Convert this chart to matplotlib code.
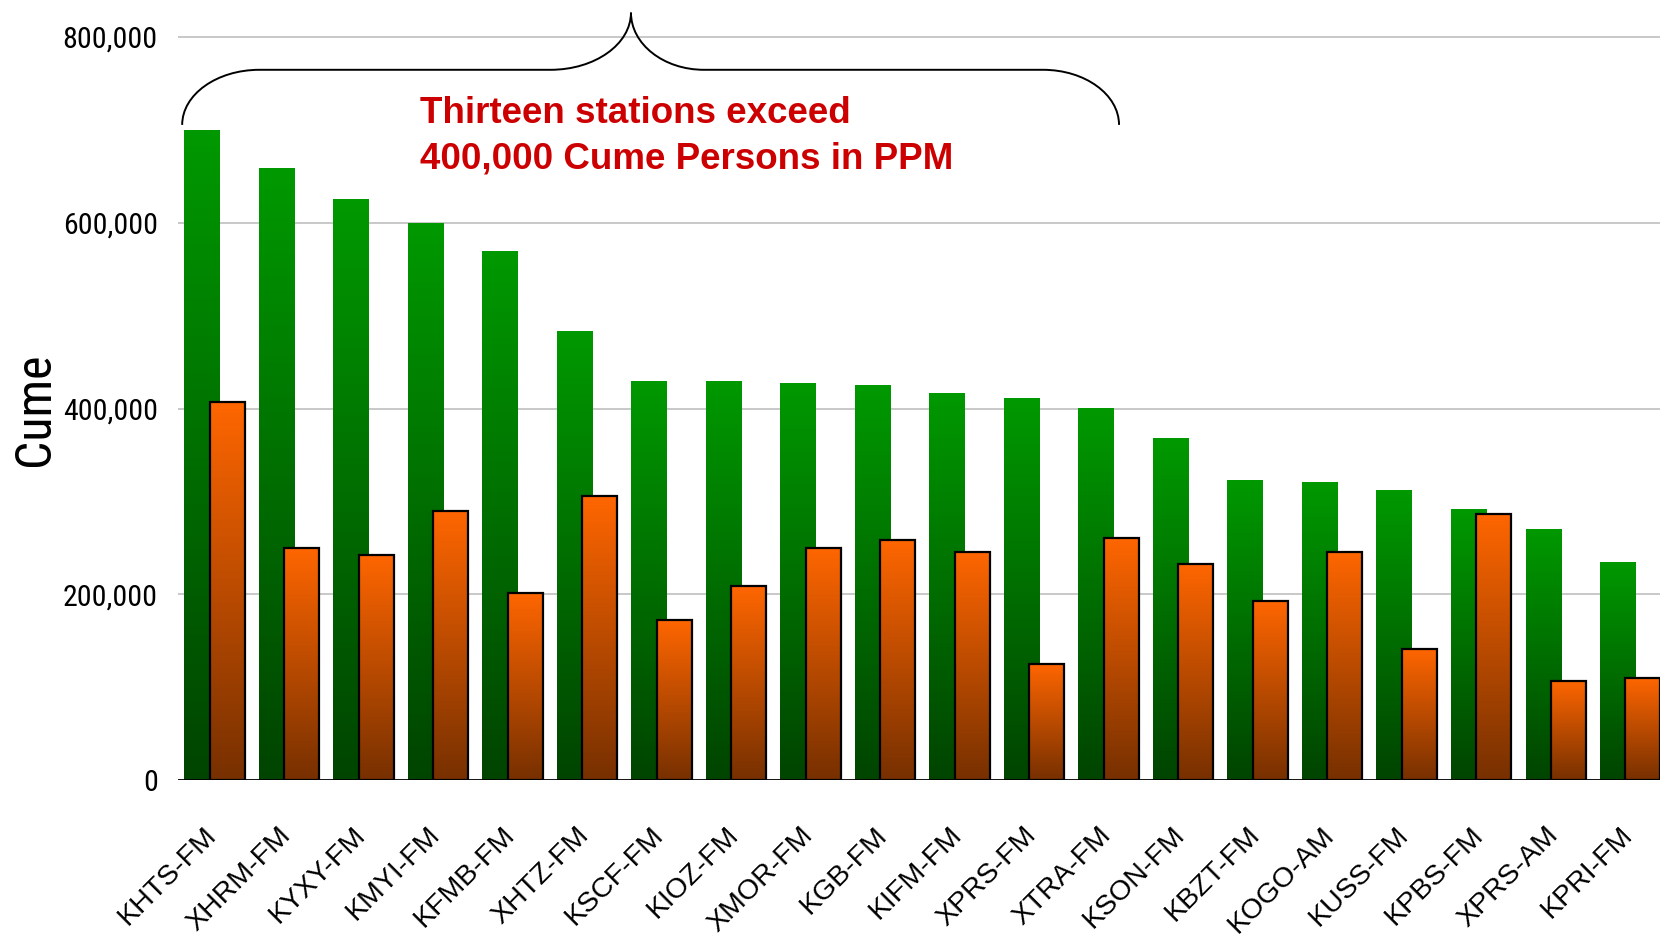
import matplotlib
matplotlib.use("Agg")
import os
import matplotlib.pyplot as plt
import numpy as np
from matplotlib.path import Path
from matplotlib.patches import PathPatch
from matplotlib.colors import LinearSegmentedColormap
from matplotlib.transforms import ScaledTranslation
from matplotlib import font_manager
from matplotlib.font_manager import FontProperties

# ---------------- data ----------------
stations = ["KHTS-FM", "XHRM-FM", "KYXY-FM", "KMYI-FM", "KFMB-FM", "XHTZ-FM",
            "KSCF-FM", "KIOZ-FM", "XMOR-FM", "KGB-FM", "KIFM-FM", "XPRS-FM",
            "XTRA-FM", "KSON-FM", "KBZT-FM", "KOGO-AM", "KUSS-FM", "KPBS-FM",
            "XPRS-AM", "KPRI-FM"]
cume_green = [700000, 659000, 626000, 600000, 570000, 484000,
              430000, 430000, 427500, 425000, 417000, 411500,
              401000, 368000, 323500, 321500, 312000, 291500,
              271000, 235000]
cume_orange = [407000, 250500, 242500, 289500, 201500, 305500,
               172000, 209500, 250500, 258500, 246000, 125500,
               261000, 232500, 193500, 246000, 141000, 287000,
               107000, 110500]
y_ticks = [0, 200000, 400000, 600000, 800000]
annotation_lines = ["Thirteen stations exceed", "400,000 Cume Persons in PPM"]
y_title = "Cume"

# ---------------- fonts ----------------
names = {f.name for f in font_manager.fontManager.ttflist}
regular = "Liberation Sans" if "Liberation Sans" in names else "DejaVu Sans"

def find_narrow():
    prefs = ["liberationsansnarrow-regular", "arialn", "robotocondensed-regular",
             "opensans_condensed-regular", "opensans-condensedregular",
             "opensanscondensed-regular", "notosans-condensed.", "notosans-condensed-regular",
             "dejavusanscondensed."]
    files = [f.fname for f in font_manager.fontManager.ttflist]
    for p in prefs:
        for fn in files:
            if os.path.basename(fn).lower().startswith(p):
                return fn
    for fn in files:
        b = os.path.basename(fn).lower()
        if ("narrow" in b or "condensed" in b) and not any(
                s in b for s in ("bold", "italic", "oblique", "light", "thin", "black", "medium", "semi", "extra")):
            return fn
    return None

narrow_file = find_narrow()

def narrow_fp(size):
    if narrow_file:
        return FontProperties(fname=narrow_file, size=size)
    return FontProperties(family=regular, size=size * 0.85)

W, H = 1660, 936
fig = plt.figure(figsize=(W / 100, H / 100), dpi=100)
fig.patch.set_facecolor("white")

ax_left, ax_bottom = 178 / W, (H - 780.3) / H
top_val = 805000
px_per_val = (780.3 - 37.0) / 800000
ax_h = top_val * px_per_val / H
ax = fig.add_axes([ax_left, ax_bottom, 1 - ax_left, ax_h])
ax.set_facecolor("white")

n = len(stations)
x = np.arange(n)
bw = 0.47
off = 0.17

green_cmap = LinearSegmentedColormap.from_list("g", ["#004400", "#009900"])
orange_cmap = LinearSegmentedColormap.from_list("o", ["#773000", "#FF6600"])
grad = np.linspace(0, 1, 256).reshape(-1, 1)

bars_g = ax.bar(x - off, cume_green, width=bw, color="none", edgecolor="none", zorder=2)
bars_o = ax.bar(x + off, cume_orange, width=bw, color="none", edgecolor="black",
                linewidth=1.6, zorder=3.5)

for bars, cmap, z in ((bars_g, green_cmap, 2.0), (bars_o, orange_cmap, 3.0)):
    for b in bars:
        x0, w, h = b.get_x(), b.get_width(), b.get_height()
        im = ax.imshow(grad, cmap=cmap, extent=(x0, x0 + w, 0, h), origin="lower",
                       aspect="auto", zorder=z, interpolation="bilinear")
        im.set_clip_path(b)

ax.set_xlim(-0.489, 19.40)
ax.set_ylim(0, top_val)

# grid and baseline
for t in y_ticks[1:]:
    ax.axhline(t, color="#C4C4C4", linewidth=1.3, zorder=0.5)
ax.axhline(0, color="black", linewidth=1.3, zorder=5)

for s in ax.spines.values():
    s.set_visible(False)

ax.set_yticks(y_ticks)
ax.set_yticklabels([f"{v:,}" for v in y_ticks])
for lab in ax.get_yticklabels():
    lab.set_fontproperties(narrow_fp(21.5))
ax.tick_params(axis="y", length=0, pad=14.5)

ax.set_xticks(x)
ax.set_xticklabels(stations, rotation=45, ha="right", va="top",
                   rotation_mode="anchor", fontsize=20.5, family=regular)
ax.tick_params(axis="x", length=0, pad=30)
shift = ScaledTranslation(-11 / 100, 0, fig.dpi_scale_trans)
for lab in ax.get_xticklabels():
    lab.set_transform(lab.get_transform() + shift)

# y title
fig.text(49 / W, (H - 409) / H, y_title, rotation=90, ha="center", va="baseline",
         rotation_mode="anchor", fontproperties=narrow_fp(36), color="black")

# annotation text
ax.text(2.76, 707400, annotation_lines[0], fontsize=26.5, fontweight="bold",
        family=regular, color="#CC0000", ha="left", va="baseline", zorder=6)
ax.text(2.76, 658000, annotation_lines[1], fontsize=26.5, fontweight="bold",
        family=regular, color="#CC0000", ha="left", va="baseline", zorder=6)

# curly brace
xl, xc1, xc2, xt, xc3, xc4, xr = -0.433, 0.604, 4.51, 5.59, 6.57, 11.12, 12.14
ye, yh, ytip = 705400, 764700, 826200
k = 0.552
verts = [
    (xl, ye),
    (xl, ye + k * (yh - ye)), (xc1 - k * (xc1 - xl), yh), (xc1, yh),
    (xc2, yh),
    (xc2 + k * (xt - xc2), yh), (xt, ytip - k * (ytip - yh)), (xt, ytip),
    (xt, ytip - k * (ytip - yh)), (xc3 - k * (xc3 - xt), yh), (xc3, yh),
    (xc4, yh),
    (xc4 + k * (xr - xc4), yh), (xr, ye + k * (yh - ye)), (xr, ye),
]
codes = [Path.MOVETO,
         Path.CURVE4, Path.CURVE4, Path.CURVE4,
         Path.LINETO,
         Path.CURVE4, Path.CURVE4, Path.CURVE4,
         Path.CURVE4, Path.CURVE4, Path.CURVE4,
         Path.LINETO,
         Path.CURVE4, Path.CURVE4, Path.CURVE4]
brace = PathPatch(Path(verts, codes), facecolor="none", edgecolor="black",
                  linewidth=1.4, clip_on=False, zorder=6)
ax.add_patch(brace)

fig.savefig("out.png", dpi=100, facecolor="white")
